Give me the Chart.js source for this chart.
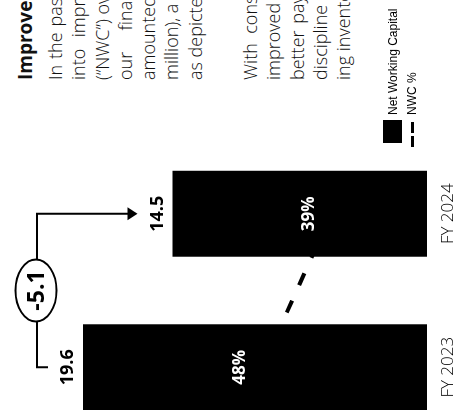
<!DOCTYPE html>
<html lang="en">
<head>
<meta charset="utf-8">
<script src="https://cdn.jsdelivr.net/npm/chart.js@4/dist/chart.umd.min.js"></script>
<style>
  html, body { margin: 0; padding: 0; width: 455px; height: 410px; overflow: hidden; background: #fff; }
  /* la pagina original esta girada 90 grados a la izquierda */
  #pagina { position: absolute; left: 0; top: 410px; width: 410px; height: 455px;
            transform: rotate(-90deg); transform-origin: 0 0; overflow: hidden; background: #fff; }
  #contenedor-grafico { position: absolute; left: -34px; top: 0; width: 307px; height: 455px; }
  #texto { position: absolute; left: 330px; top: 14px; width: 300px; color: #111;
           font-family: "Open Sans", sans-serif; font-size: 18px; }
  #texto h2 { margin: 0 0 7px 0; font-size: 19px; line-height: 23px; font-weight: 700; white-space: nowrap; }
  #texto p { margin: 0 0 32px 0; font-weight: 300; line-height: 23.3px; }
  #texto p span { display: block; white-space: nowrap; text-align: justify; text-align-last: justify; }
  #texto p span.fin { text-align-last: left; }
  #leyenda { position: absolute; left: 263px; top: 383px; font-family: "Liberation Sans", Arial, sans-serif;
             font-size: 12px; color: #000; }
  .fila-leyenda { display: flex; align-items: center; height: 19.5px; white-space: nowrap; }
  .marca { width: 27px; margin-right: 5px; display: flex; align-items: center; }
  .marca-barra { margin-left: 4px; width: 23px; height: 19px; background: #000; }
  .marca-linea { width: 25px; height: 3px;
                 background: linear-gradient(to right, #000 0 11px, transparent 11px 14px, #000 14px 25px); }
</style>
</head>
<body>
<div id="pagina">
  <div id="contenedor-grafico"><canvas id="grafico-nwc" width="307" height="455"></canvas></div>
  <div id="texto">
    <h2>Improved Net Working Capital</h2>
    <p>
      <span>In the past year we have put a focus</span>
      <span>into improving net working capital</span>
      <span>(“NWC”) over the whole year. At end of</span>
      <span>our financial year 2024, NWC</span>
      <span>amounted to EUR 14.5 million (EUR 19.6</span>
      <span>million), a reduction of EUR 5.1 million</span>
      <span class="fin">as depicted in the chart.</span>
    </p>
    <p>
      <span>With consistent receivables control,</span>
      <span>improved customer payment terms,</span>
      <span>better payment behaviour and strict</span>
      <span>discipline in purchasing and reduc-</span>
      <span class="fin">ing inventory levels, we expect</span>
    </p>
  </div>
  <div id="leyenda"></div>
</div>
<script>
const anios = ['FY 2023', 'FY 2024'];
const valoresNWC = [19.6, 14.5];
const porcentajesNWC = [48, 39];
const variacionNWC = -5.1;

const etiquetasPlugin = {
  id: 'etiquetas',
  afterDatasetsDraw(chart) {
    const ctx = chart.ctx;
    const barras = chart.getDatasetMeta(0).data;
    const puntos = chart.getDatasetMeta(1).data;
    ctx.save();

    // valores sobre las barras
    ctx.fillStyle = '#000';
    ctx.font = 'bold 18px "Open Sans"';
    ctx.textAlign = 'center';
    ctx.textBaseline = 'alphabetic';
    barras.forEach((b, i) => ctx.fillText(valoresNWC[i].toFixed(1), b.x, b.y - 10));

    // porcentajes dentro de las barras
    ctx.fillStyle = '#fff';
    ctx.font = 'bold 17px "Open Sans"';
    ctx.textBaseline = 'middle';
    puntos.forEach((p, i) => ctx.fillText(porcentajesNWC[i] + '%', p.x, p.y - 22));

    // corchete con la variacion
    const x0 = barras[0].x;
    const x1 = barras[1].x;
    const yTope = Math.min(...barras.map(b => b.y)) - 46;
    const fin0 = barras[0].y - 35;
    const fin1 = barras[1].y - 35;
    ctx.strokeStyle = '#000';
    ctx.fillStyle = '#000';
    ctx.lineWidth = 2;
    ctx.beginPath();
    ctx.moveTo(x0, fin0);
    ctx.lineTo(x0, yTope);
    ctx.lineTo(x1, yTope);
    ctx.lineTo(x1, fin1 - 9);
    ctx.stroke();
    ctx.beginPath();
    ctx.moveTo(x1 - 6.5, fin1 - 10);
    ctx.lineTo(x1 + 6.5, fin1 - 10);
    ctx.lineTo(x1, fin1);
    ctx.closePath();
    ctx.fill();

    const xm = (x0 + x1) / 2;
    ctx.beginPath();
    ctx.ellipse(xm, yTope - 1, 31, 20.5, 0, 0, Math.PI * 2);
    ctx.fillStyle = '#fff';
    ctx.fill();
    ctx.stroke();
    ctx.fillStyle = '#000';
    ctx.font = 'bold 23px "Open Sans"';
    ctx.textBaseline = 'middle';
    ctx.fillText(variacionNWC.toFixed(1), xm, yTope);
    ctx.restore();
  }
};

function renderizarLeyenda(chart) {
  const leyenda = document.getElementById('leyenda');
  leyenda.innerHTML = '';
  for (const ds of chart.data.datasets) {
    const fila = document.createElement('div');
    fila.className = 'fila-leyenda';
    fila.innerHTML = `
      <span class="marca"><span class="${ds.type === 'line' ? 'marca-linea' : 'marca-barra'}"></span></span>
      <span>${ds.label}</span>
    `;
    leyenda.appendChild(fila);
  }
}

const ctx = document.getElementById('grafico-nwc').getContext('2d');
const grafico = new Chart(ctx, {
  type: 'bar',
  data: {
    labels: anios,
    datasets: [{
      type: 'bar',
      label: 'Net Working Capital',
      data: valoresNWC,
      backgroundColor: '#000',
      categoryPercentage: 1,
      barPercentage: 0.56,
      yAxisID: 'y',
      order: 1
    }, {
      type: 'line',
      label: 'NWC %',
      data: porcentajesNWC,
      borderColor: '#000',
      borderWidth: 4,
      borderDash: [13, 17],
      pointRadius: 0,
      yAxisID: 'y1',
      order: 2
    }]
  },
  options: {
    responsive: false,
    animation: false,
    layout: { padding: 0 },
    plugins: {
      legend: { display: false },
      tooltip: { enabled: false }
    },
    scales: {
      x: {
        grid: { display: false, drawTicks: false },
        border: { display: false },
        ticks: { color: '#000', padding: 14, font: { family: 'Open Sans', size: 17, weight: '300', lineHeight: 0.9 } },
        afterFit(scale) { scale.height = 28; }
      },
      y: { display: false, min: 0, max: 24.33 },
      y1: { display: false, min: 26.5, max: 82.2 }
    }
  },
  plugins: [etiquetasPlugin]
});

renderizarLeyenda(grafico);
</script>
</body>
</html>
